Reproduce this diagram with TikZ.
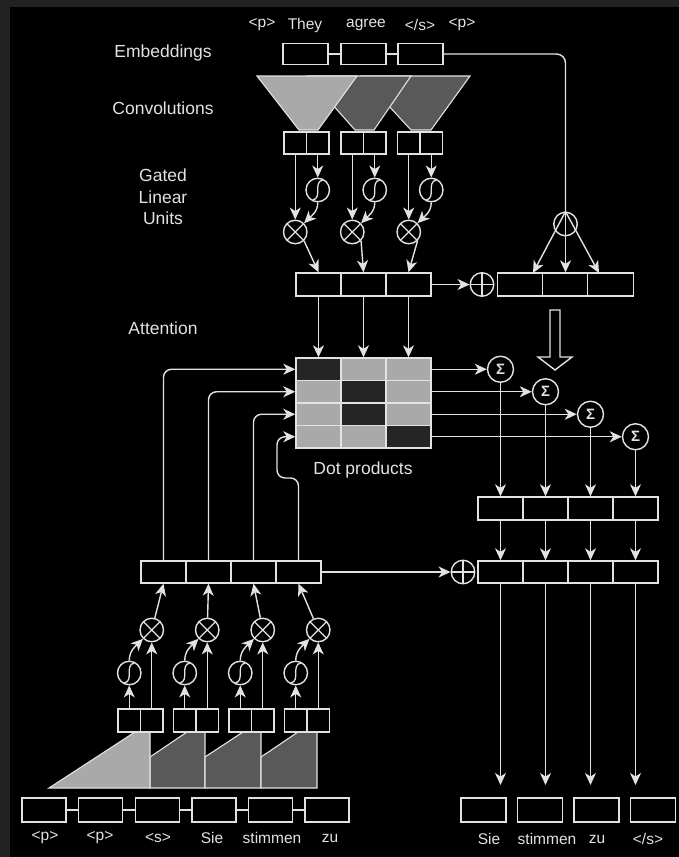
\documentclass[tikz,border=0pt]{standalone}
\usepackage{fontspec}
\setmainfont{Liberation Sans}
\usetikzlibrary{arrows.meta}
\definecolor{fg}{HTML}{E2E2E2}
\definecolor{framecol}{HTML}{222222}
\definecolor{lgray}{HTML}{A9A9A9}
\definecolor{dgray}{HTML}{595959}
\definecolor{mdark}{HTML}{252525}
\begin{document}
\begin{tikzpicture}[x=1pt,y=-1pt,
  every node/.style={text=fg},
  cell/.style={draw=fg,line width=1.4pt,fill=black,minimum height=23pt,inner sep=0pt,minimum width=#1},
  cell/.default=45pt,
  mcell/.style={draw=fg,line width=1.4pt,minimum width=45pt,minimum height=22.5pt,inner sep=0pt,fill=#1},
  op/.style={circle,draw=fg,line width=1.4pt,fill=black,minimum size=23.5pt,inner sep=0pt},
  timesop/.style={op,path picture={\draw[fg,line width=1.3pt]
      (path picture bounding box.north east) -- (path picture bounding box.south west)
      (path picture bounding box.north west) -- (path picture bounding box.south east);}},
  plusop/.style={op,path picture={\draw[fg,line width=1.3pt]
      (path picture bounding box.north) -- (path picture bounding box.south)
      (path picture bounding box.west) -- (path picture bounding box.east);}},
  sigop/.style={op,path picture={\draw[fg,line width=1.3pt]
      ([shift={(-5pt,-10pt)}]path picture bounding box.center) .. controls ([shift={(5pt,-8pt)}]path picture bounding box.center) and ([shift={(-5pt,8pt)}]path picture bounding box.center) .. ([shift={(5pt,10pt)}]path picture bounding box.center);}},
  sumop/.style={op,minimum size=26pt,font=\bfseries\fontsize{15}{15}\selectfont},
  arr/.style={draw=fg,line width=1.4pt,-{Stealth[length=12pt,width=11pt,inset=3.5pt]}},
  ln/.style={draw=fg,line width=1.4pt},
  shp/.style={draw=fg,line width=1.1pt},
  lbl/.style={font=\fontsize{17.5}{21.5}\selectfont,align=center},
  word/.style={font=\fontsize{15.5}{18}\selectfont},
]
% background
\fill[framecol] (0,0) rectangle (679,857);
\fill[black] (10,7) rectangle (679,857);
\useasboundingbox (0,0) rectangle (679,857);

% section labels
\node[lbl] (lemb) at (163,53) {Embeddings};
\node[lbl] (lconv) at (163,108) {Convolutions};
\node[lbl] (lglu) at (163,197) {Gated\\Linear\\Units};
\node[lbl] (latt) at (163,328) {Attention};

% top words
\node[word] (tw1) at (262,25) {<p>};
\node[word] (tw2) at (305,25) {They};
\node[word] (tw3) at (366,25) {agree};
\node[word] (tw4) at (420,25) {</s>};
\node[word] (tw5) at (462,25) {<p>};

% top embeddings
\node[cell,minimum height=21pt] (e1) at (305.5,54) {};
\node[cell,minimum height=21pt] (e2) at (363.5,54) {};
\node[cell,minimum height=21pt] (e3) at (420.5,54) {};
\draw[ln] (e1.east) -- (e2.west);
\draw[ln] (e2.east) -- (e3.west);

% top convolutions
\filldraw[shp,fill=dgray] (361,76) -- (470,76) -- (431,130) -- (411,130) -- cycle;
\filldraw[shp,fill=dgray] (307,76) -- (411,76) -- (374,130) -- (355,130) -- cycle;
\filldraw[shp,fill=lgray] (257,76) -- (357,76) -- (318,130) -- (299,130) -- cycle;

% top conv output pairs
\node[cell=22.5pt,minimum height=22pt] (p1a) at (295.25,143) {};
\node[cell=22.5pt,minimum height=22pt] (p1b) at (317.75,143) {};
\node[cell=22.5pt,minimum height=22pt] (p2a) at (352.25,143) {};
\node[cell=22.5pt,minimum height=22pt] (p2b) at (374.75,143) {};
\node[cell=22.5pt,minimum height=22pt] (p3a) at (408.75,143) {};
\node[cell=22.5pt,minimum height=22pt] (p3b) at (431.25,143) {};

% top GLU
\node[sigop] (s1) at (317.75,190) {};
\node[sigop] (s2) at (374.75,190) {};
\node[sigop] (s3) at (431.25,190) {};
\node[timesop] (m1) at (295.25,232) {};
\node[timesop] (m2) at (352.25,232) {};
\node[timesop] (m3) at (408.75,232) {};

% encoder output row
\node[cell] (t1) at (318.5,284.5) {};
\node[cell] (t2) at (363.5,284.5) {};
\node[cell] (t3) at (408.5,284.5) {};
\node[plusop] (pl1) at (482,284.5) {};
\node[cell=45.5pt] (r1) at (520,284.5) {};
\node[cell=45.5pt] (r2) at (565.5,284.5) {};
\node[cell=45.5pt] (r3) at (610.5,284.5) {};

\foreach \a/\b/\s/\m/\t in {p1a/p1b/s1/m1/t1, p2a/p2b/s2/m2/t2, p3a/p3b/s3/m3/t3}{
  \draw[arr] (\b.south) -- (\s.north);
  \draw[arr] (\a.south) -- (\m.north);
  \draw[arr] (\s.south) to[out=-90,in=45] (\m.north east);
  \draw[arr] (\m.south east) -- (\t.north);
}
\draw[arr] (t3.east) -- (pl1.west);

% attention over embeddings (right)
\node[op] (ac) at (565.5,224) {};
\coordinate (ra) at (533,273);
\coordinate (rc) at (599,273);
\draw[ln,rounded corners=9pt] (e3.east) -| (ac.north);
\draw[arr] (ac.north) -- (r2.north);
\draw[arr] (ac.north) -- (ra);
\draw[arr] (ac.north) -- (rc);

% hollow arrow
\filldraw[fill=black,draw=fg,line width=1.4pt] (550,310) -- (560,310) -- (560,357) -- (572,357) -- (555,370) -- (538,357) -- (550,357) -- cycle;

% dot-product matrix
\node[mcell=mdark] (a11) at (318.5,369.25) {};
\node[mcell=lgray] (a12) at (363.5,369.25) {};
\node[mcell=lgray] (a13) at (408.5,369.25) {};
\node[mcell=lgray] (a21) at (318.5,391.75) {};
\node[mcell=mdark] (a22) at (363.5,391.75) {};
\node[mcell=lgray] (a23) at (408.5,391.75) {};
\node[mcell=lgray] (a31) at (318.5,414.25) {};
\node[mcell=mdark] (a32) at (363.5,414.25) {};
\node[mcell=lgray] (a33) at (408.5,414.25) {};
\node[mcell=lgray] (a41) at (318.5,436.75) {};
\node[mcell=lgray] (a42) at (363.5,436.75) {};
\node[mcell=mdark] (a43) at (408.5,436.75) {};
\node[lbl] (ldot) at (363,470) {Dot products};

\draw[arr] (t1.south) -- (a11.north);
\draw[arr] (t2.south) -- (a12.north);
\draw[arr] (t3.south) -- (a13.north);

% sums
\node[sumop] (S1) at (500.5,369.25) {Σ};
\node[sumop] (S2) at (545.5,391.75) {Σ};
\node[sumop] (S3) at (590.5,414.25) {Σ};
\node[sumop] (S4) at (635.5,436.75) {Σ};
\draw[arr] (a13.east) -- (S1.west);
\draw[arr] (a23.east) -- (S2.west);
\draw[arr] (a33.east) -- (S3.west);
\draw[arr] (a43.east) -- (S4.west);

% right rows
\node[cell] (o1) at (500.5,508.5) {};
\node[cell] (o2) at (545.5,508.5) {};
\node[cell] (o3) at (590.5,508.5) {};
\node[cell] (o4) at (635.5,508.5) {};
\node[cell,minimum height=22pt] (q1) at (500.5,572) {};
\node[cell,minimum height=22pt] (q2) at (545.5,572) {};
\node[cell,minimum height=22pt] (q3) at (590.5,572) {};
\node[cell,minimum height=22pt] (q4) at (635.5,572) {};
\node[plusop] (pl2) at (463,572) {};
\coordinate (c1) at (500.5,785);
\coordinate (c2) at (545.5,785);
\coordinate (c3) at (590.5,785);
\coordinate (c4) at (635.5,785);
\foreach \i in {1,2,3,4}{
  \draw[arr] (S\i.south) -- (o\i.north);
  \draw[arr] (o\i.south) -- (q\i.north);
  \draw[arr] (q\i.south) -- (c\i);
}

% output words
\node[cell,minimum height=24pt] (ob1) at (483.5,810) {};
\node[cell,minimum height=24pt] (ob2) at (540,810) {};
\node[cell,minimum height=24pt] (ob3) at (596.5,810) {};
\node[cell,minimum height=24pt] (ob4) at (653,810) {};
\node[word] (ow1) at (489,839) {Sie};
\node[word] (ow2) at (547,839) {stimmen};
\node[word] (ow3) at (597,839) {zu};
\node[word] (ow4) at (648,839) {</s>};

% decoder row
\node[cell,minimum height=22pt] (d1) at (163.5,572) {};
\node[cell,minimum height=22pt] (d2) at (208.5,572) {};
\node[cell,minimum height=22pt] (d3) at (253.5,572) {};
\node[cell,minimum height=22pt] (d4) at (298.5,572) {};
\draw[arr] (d4.east) -- (pl2.west);

\draw[arr,rounded corners=8pt] (d1.north) |- (a11.west);
\draw[arr,rounded corners=8pt] (d2.north) |- (a21.west);
\draw[arr,rounded corners=8pt] (d3.north) |- (a31.west);
\coordinate (j1) at (277,478);
\draw[arr,rounded corners=8pt] (d4.north) |- (j1) |- (a41.west);

% bottom convolutions
\filldraw[shp,fill=dgray] (150,788) -- (205,788) -- (205,732) -- (187,732) -- (150,757) -- cycle;
\filldraw[shp,fill=dgray] (205,788) -- (261,788) -- (261,732) -- (243,732) -- (205,757) -- cycle;
\filldraw[shp,fill=dgray] (261,788) -- (317,788) -- (317,732) -- (298,732) -- (261,757) -- cycle;
\filldraw[shp,fill=lgray] (49,788) -- (150,788) -- (150,732) -- (135,732) -- cycle;

% bottom conv output pairs
\node[cell=22.5pt] (b1a) at (129.25,720.5) {};
\node[cell=22.5pt] (b1b) at (151.75,720.5) {};
\node[cell=22.5pt] (b2a) at (184.75,720.5) {};
\node[cell=22.5pt] (b2b) at (207.25,720.5) {};
\node[cell=22.5pt] (b3a) at (240.25,720.5) {};
\node[cell=22.5pt] (b3b) at (262.75,720.5) {};
\node[cell=22.5pt] (b4a) at (295.75,720.5) {};
\node[cell=22.5pt] (b4b) at (318.25,720.5) {};

% bottom GLU
\node[sigop] (bs1) at (129.25,673) {};
\node[sigop] (bs2) at (184.75,673) {};
\node[sigop] (bs3) at (240.25,673) {};
\node[sigop] (bs4) at (295.75,673) {};
\node[timesop] (bm1) at (151.75,630) {};
\node[timesop] (bm2) at (207.25,630) {};
\node[timesop] (bm3) at (262.75,630) {};
\node[timesop] (bm4) at (318.25,630) {};
\foreach \i in {1,2,3,4}{
  \draw[arr] (b\i b.north) -- (bm\i.south);
  \draw[arr] (b\i a.north) -- (bs\i.south);
  \draw[arr] (bs\i.north) to[out=90,in=-135] (bm\i.south west);
  \draw[arr] (bm\i) -- (d\i.south);
}

% bottom embeddings
\node[cell=44pt,minimum height=24pt] (be1) at (44,810) {};
\node[cell=44pt,minimum height=24pt] (be2) at (100.6,810) {};
\node[cell=44pt,minimum height=24pt] (be3) at (157.2,810) {};
\node[cell=44pt,minimum height=24pt] (be4) at (213.8,810) {};
\node[cell=44pt,minimum height=24pt] (be5) at (270.4,810) {};
\node[cell=44pt,minimum height=24pt] (be6) at (327,810) {};
\draw[ln] (be1.east) -- (be2.west);
\draw[ln] (be2.east) -- (be3.west);
\draw[ln] (be3.east) -- (be4.west);
\draw[ln] (be4.east) -- (be5.west);
\draw[ln] (be5.east) -- (be6.west);
\node[word] (bw1) at (45,838) {<p>};
\node[word] (bw2) at (100,838) {<p>};
\node[word] (bw3) at (158,838) {<s>};
\node[word] (bw4) at (212,838) {Sie};
\node[word] (bw5) at (272,838) {stimmen};
\node[word] (bw6) at (330,838) {zu};
\end{tikzpicture}
\end{document}
